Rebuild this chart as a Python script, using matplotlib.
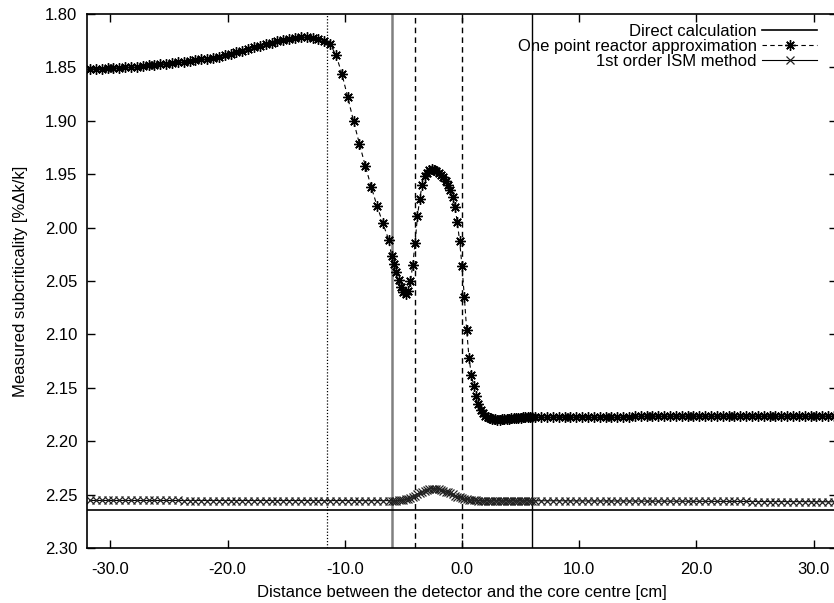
import numpy as np
import matplotlib
matplotlib.use("Agg")
import matplotlib.pyplot as plt

plt.rcParams['font.family'] = ['Liberation Sans', 'DejaVu Sans']

# ---------------- data ----------------
# sampling positions [cm]: coarse outside the core, fine inside the core
x_left = np.arange(-31.75, -6.0, 0.5)      # 52 points
x_core = np.round(np.arange(-6.0, 6.0001, 0.2), 2)   # 61 points
x_right = np.arange(6.25, 32.0, 0.5)       # 52 points

one_point_left = [
    1.8515, 1.8514, 1.8512, 1.8510, 1.8507, 1.8504, 1.8500, 1.8496, 1.8492, 1.8487,
    1.8482, 1.8477, 1.8472, 1.8466, 1.8460, 1.8454, 1.8447, 1.8440, 1.8433, 1.8425,
    1.8417, 1.8409, 1.8400, 1.8388, 1.8373, 1.8358, 1.8343, 1.8328, 1.8313, 1.8298,
    1.8284, 1.8270, 1.8257, 1.8245, 1.8234, 1.8226, 1.8220, 1.8218, 1.8222, 1.8232,
    1.8250, 1.8285, 1.8384, 1.8560, 1.8780, 1.9005, 1.9217, 1.9423, 1.9617, 1.9797,
    1.9960, 2.0115,
]
one_point_core = [
    2.0270, 2.0340, 2.0420, 2.0490, 2.0555, 2.0600, 2.0620, 2.0595, 2.0500, 2.0350,
    2.0140, 1.9890, 1.9730, 1.9600, 1.9520, 1.9485, 1.9465, 1.9455, 1.9457, 1.9468,
    1.9485, 1.9505, 1.9530, 1.9560, 1.9600, 1.9650, 1.9715, 1.9810, 1.9950, 2.0130,
    2.0360, 2.0650, 2.0960, 2.1220, 2.1380, 2.1480, 2.1575, 2.1650, 2.1705, 2.1740,
    2.1762, 2.1776, 2.1786, 2.1792, 2.1796, 2.1798, 2.1797, 2.1795, 2.1793, 2.1790,
    2.1788, 2.1786, 2.1784, 2.1782, 2.1780, 2.1779, 2.1778, 2.1777, 2.1776, 2.1775,
    2.1775,
]
one_point_right = [
    2.1774, 2.1774, 2.1773, 2.1773, 2.1773, 2.1772, 2.1772, 2.1772, 2.1771, 2.1771,
    2.1771, 2.1770, 2.1770, 2.1770, 2.1769, 2.1769, 2.1769, 2.1768, 2.1768, 2.1768,
    2.1768, 2.1767, 2.1767, 2.1767, 2.1767, 2.1766, 2.1766, 2.1766, 2.1766, 2.1766,
    2.1765, 2.1765, 2.1765, 2.1765, 2.1765, 2.1765, 2.1764, 2.1764, 2.1764, 2.1764,
    2.1764, 2.1764, 2.1764, 2.1764, 2.1763, 2.1763, 2.1763, 2.1763, 2.1763, 2.1763,
    2.1763, 2.1763,
]

ism_left = [
    2.2555, 2.2555, 2.2555, 2.2555, 2.2555, 2.2555, 2.2555, 2.2555, 2.2555, 2.2555,
    2.2555, 2.2555, 2.2555, 2.2555, 2.2555, 2.2555, 2.2556, 2.2556, 2.2556, 2.2556,
    2.2556, 2.2556, 2.2556, 2.2556, 2.2556, 2.2556, 2.2556, 2.2556, 2.2556, 2.2556,
    2.2556, 2.2556, 2.2556, 2.2556, 2.2556, 2.2556, 2.2556, 2.2556, 2.2556, 2.2556,
    2.2556, 2.2556, 2.2556, 2.2556, 2.2556, 2.2556, 2.2557, 2.2557, 2.2557, 2.2557,
    2.2557, 2.2557,
]
ism_core = [
    2.2557, 2.2557, 2.2556, 2.2555, 2.2553, 2.2550, 2.2545, 2.2538, 2.2530, 2.2520,
    2.2509, 2.2497, 2.2485, 2.2473, 2.2462, 2.2453, 2.2447, 2.2444, 2.2444, 2.2446,
    2.2450, 2.2456, 2.2463, 2.2471, 2.2480, 2.2489, 2.2499, 2.2509, 2.2518, 2.2527,
    2.2534, 2.2540, 2.2545, 2.2549, 2.2552, 2.2554, 2.2555, 2.2556, 2.2556, 2.2557,
    2.2557, 2.2557, 2.2557, 2.2557, 2.2557, 2.2557, 2.2557, 2.2557, 2.2557, 2.2557,
    2.2557, 2.2557, 2.2557, 2.2557, 2.2557, 2.2557, 2.2557, 2.2557, 2.2557, 2.2557,
    2.2557,
]
ism_right = [
    2.2558, 2.2558, 2.2558, 2.2558, 2.2558, 2.2558, 2.2559, 2.2559, 2.2559, 2.2559,
    2.2559, 2.2559, 2.2560, 2.2560, 2.2560, 2.2560, 2.2560, 2.2561, 2.2561, 2.2561,
    2.2561, 2.2561, 2.2562, 2.2562, 2.2562, 2.2562, 2.2562, 2.2563, 2.2563, 2.2563,
    2.2563, 2.2563, 2.2564, 2.2564, 2.2564, 2.2564, 2.2564, 2.2565, 2.2565, 2.2565,
    2.2565, 2.2565, 2.2565, 2.2566, 2.2566, 2.2566, 2.2566, 2.2566, 2.2566, 2.2567,
    2.2567, 2.2567,
]

direct_value = 2.2645

# vertical reference lines [cm]
vline_dotted = -11.5
vline_gray = -6.0
vline_dashed = [-4.0, 0.0]
vline_solid = 6.0

y_ticks = [1.80, 1.85, 1.90, 1.95, 2.00, 2.05, 2.10, 2.15, 2.20, 2.25, 2.30]
x_ticks = [-30, -20, -10, 0, 10, 20, 30]

x_all = np.concatenate([x_left, x_core, x_right])
one_point = np.concatenate([one_point_left, one_point_core, one_point_right])
ism = np.concatenate([ism_left, ism_core, ism_right])

# ---------------- figure ----------------
W, H = 834, 603
fig = plt.figure(figsize=(W / 100, H / 100), dpi=100)
ax = fig.add_axes([87 / W, 1 - 548 / H, (837 - 87) / W, (548 - 14) / H])

FS = 12

ax.axvline(vline_dotted, color='black', lw=0.9, ls=(0, (1, 1.5)))
ax.axvline(vline_gray, color='#808080', lw=1.8)
for v in vline_dashed:
    ax.axvline(v, color='black', lw=1.0, ls=(0, (4, 3)))
ax.axvline(vline_solid, color='black', lw=1.0)

ax.axhline(direct_value, color='black', lw=1.2, label='Direct calculation')

ax.plot(x_all, one_point, color='black', lw=0.8, ls=(0, (4, 3)),
        marker=(8, 2, 0), markersize=7.5, markeredgewidth=1.0,
        label='One point reactor approximation')
ax.plot(x_all, ism, color='black', lw=0.8, ls='-',
        marker='x', markersize=5.5, markeredgewidth=0.9, markeredgecolor='#222222',
        label='1st order ISM method')

ax.set_xlim(-32, 32)
ax.set_ylim(2.30, 1.80)
ax.set_yticks(y_ticks)
ax.set_yticklabels([f"{v:.2f}" for v in y_ticks])
ax.set_xticks(x_ticks)
ax.set_xticklabels([f"{v:.1f}" for v in x_ticks])
ax.tick_params(direction='in', length=6, width=1.0, top=True, right=True,
               labelsize=FS)
ax.tick_params(axis='y', pad=7)
ax.tick_params(axis='x', pad=10)
for s in ax.spines.values():
    s.set_linewidth(1.2)

ax.set_xlabel('Distance between the detector and the core centre [cm]',
              fontsize=FS, labelpad=6)
ax.set_ylabel('Measured subcriticality [%\u0394k/k]', fontsize=FS, labelpad=12)

leg = fig.legend(loc='upper right', bbox_to_anchor=(817 / W, 1 - 23.5 / H),
                 frameon=False, markerfirst=False, fontsize=FS,
                 handlelength=3.3, handletextpad=0.3, borderpad=0,
                 borderaxespad=0, labelspacing=0.0, numpoints=1)

fig.savefig('out.png', dpi=100)
